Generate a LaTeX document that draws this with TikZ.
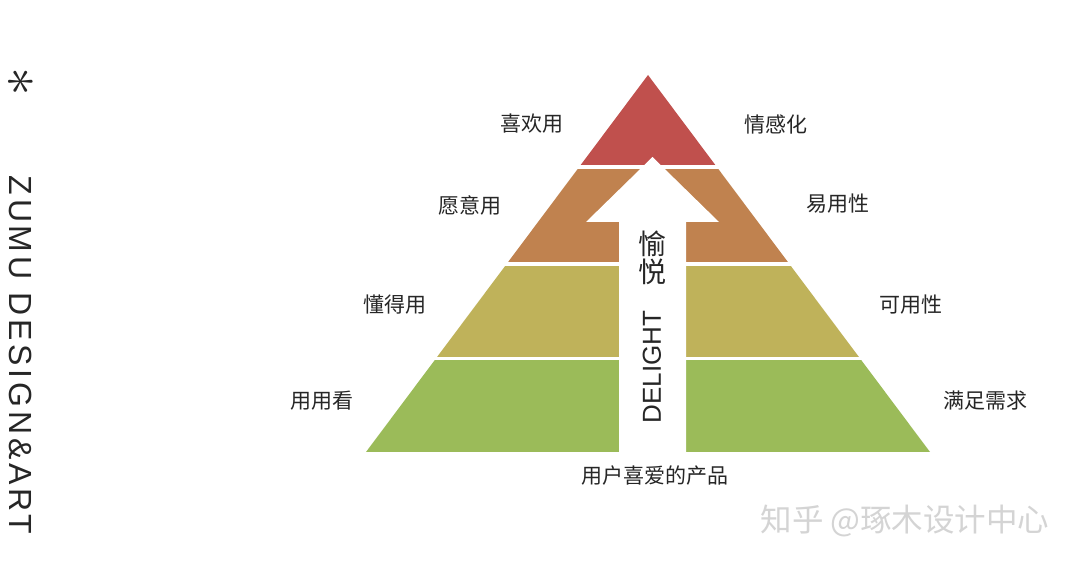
\documentclass[tikz,border=0pt]{standalone}
\usepackage{fontspec}
\usepackage{graphicx}
\setmainfont{Liberation Sans}
\newfontfamily\cjk{Noto Sans CJK SC}
\newfontfamily\zumufont[LetterSpace=12]{Liberation Sans}
\definecolor{lvred}{HTML}{C0504D}
\definecolor{lvbrown}{HTML}{C0824F}
\definecolor{lvolive}{HTML}{BFB25A}
\definecolor{lvgreen}{HTML}{9BBB59}
\definecolor{wmgray}{HTML}{D4D4D4}
\tikzset{
  sidelabel/.style={font=\cjk\fontsize{21}{25}\selectfont, inner sep=0pt, text=black!85},
  bigcjk/.style={font=\cjk\fontsize{28}{28}\selectfont, inner sep=0pt, text=black!85, align=center},
  latinbig/.style={font=\fontsize{26}{26}\selectfont, inner sep=0pt, text=black!85},
}
\begin{document}
\begin{tikzpicture}[x=1pt,y=-1pt]
\useasboundingbox (0,0) rectangle (1080,567);
\fill[white] (0,0) rectangle (1080,567);
% pyramid layers
\begin{scope}
\clip (648,75) -- (930,452) -- (366,452) -- cycle;
\fill[lvred]   (300,60)    rectangle (1000,165.5);
\fill[lvbrown] (300,169)   rectangle (1000,262);
\fill[lvolive] (300,265.5) rectangle (1000,356.5);
\fill[lvgreen] (300,360)   rectangle (1000,452);
\end{scope}
% white arrow
\fill[white] (652.5,157) -- (719,222) -- (686,222) -- (686,456) -- (619,456) -- (619,222) -- (586,222) -- cycle;
% arrow labels
\node[bigcjk] (yue1) at (652,244) {愉};
\node[bigcjk] (yue2) at (652,272) {悦};
\node[latinbig, rotate=90] (delight) at (652,367) {DELIGHT};
% side labels left
\node[sidelabel] (l1) at (532,124) {喜欢用};
\node[sidelabel] (l2) at (470,205) {愿意用};
\node[sidelabel] (l3) at (395,305) {懂得用};
\node[sidelabel] (l4) at (322,401) {用用看};
% side labels right
\node[sidelabel] (r1) at (776,124) {情感化};
\node[sidelabel] (r2) at (838,204) {易用性};
\node[sidelabel] (r3) at (911,305) {可用性};
\node[sidelabel] (r4) at (985,401) {满足需求};
% bottom label
\node[sidelabel] (base) at (655,476) {用户喜爱的产品};
% left vertical brand
\node[inner sep=0pt, rotate=-90, text=black!85] (star) at (20,82) {\scalebox{2.3}{\fontsize{24}{24}\selectfont$\ast$}};
\node[inner sep=0pt, rotate=-90, font=\zumufont\fontsize{32}{32}\selectfont, text=black!85] (brand) at (21,355) {ZUMU DESIGN\&ART};
% watermark
\node[inner sep=0pt, font=\cjk\fontsize{31.5}{31.5}\selectfont, text=wmgray] (wm) at (905,521) {知乎 @琢木设计中心};
\end{tikzpicture}
\end{document}
